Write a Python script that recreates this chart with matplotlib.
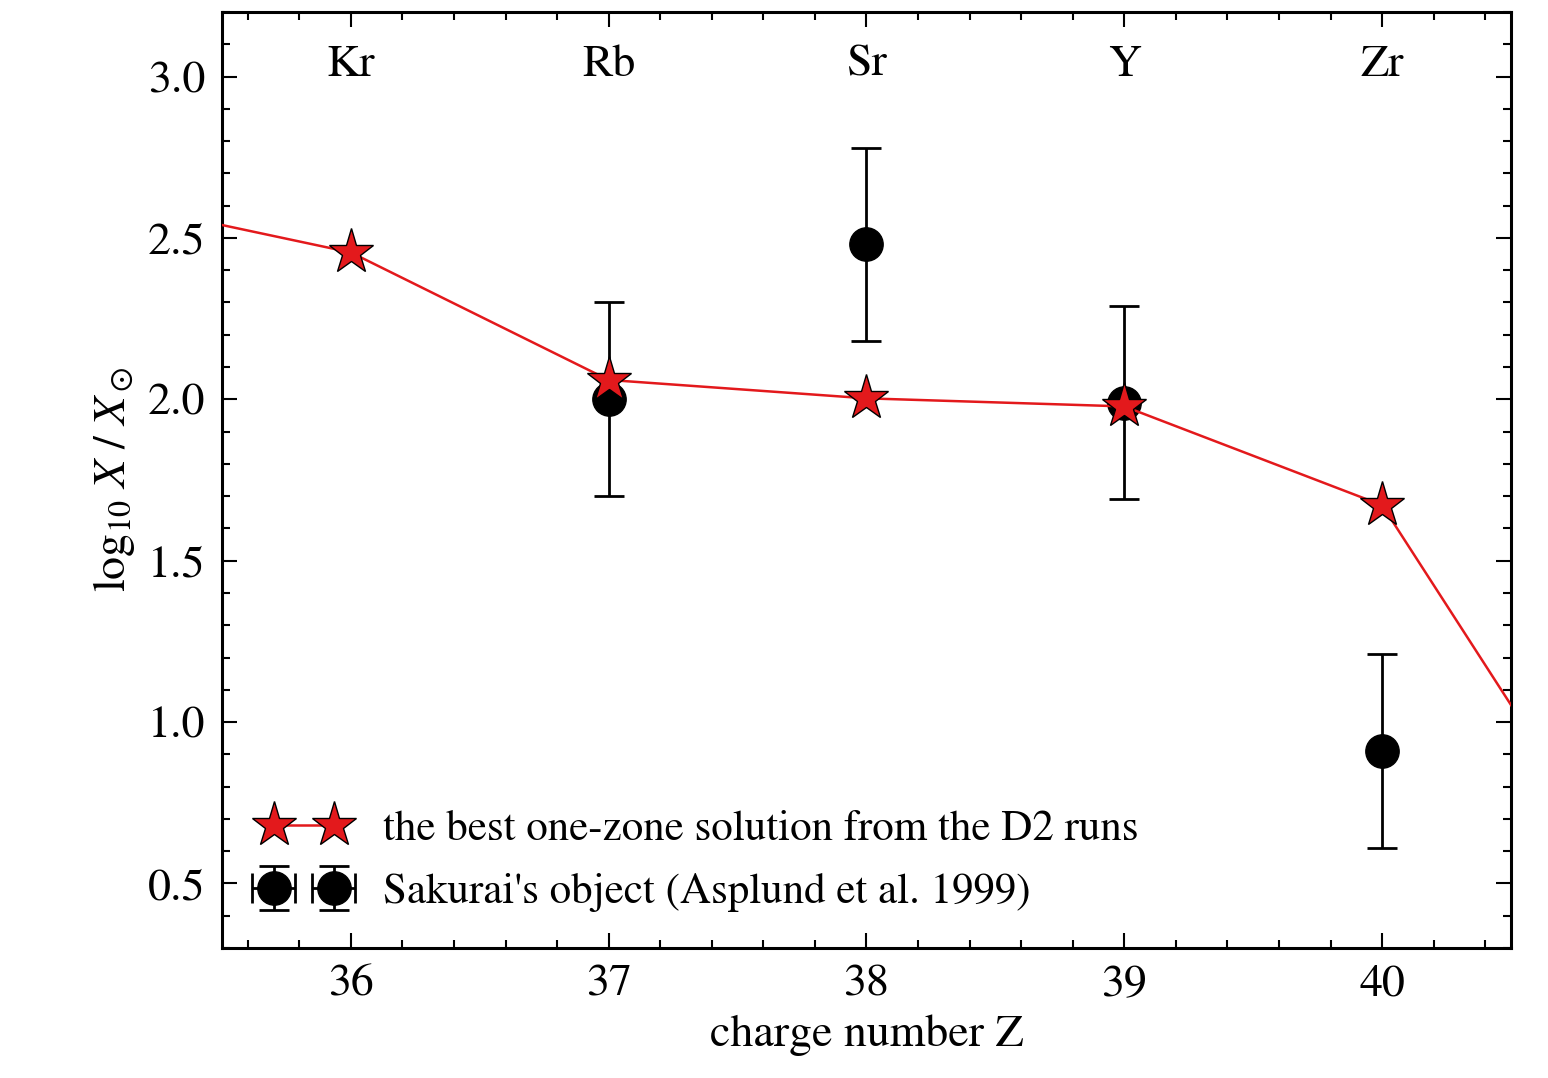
import numpy as np
import matplotlib
matplotlib.use("Agg")
import matplotlib.pyplot as plt
from matplotlib.ticker import MultipleLocator

plt.rcParams["font.family"] = ["STIXGeneral", "DejaVu Serif"]
plt.rcParams["mathtext.fontset"] = "stix"

# model curve (extends beyond plotted range on both sides)
model_z = [35, 36, 37, 38, 39, 40, 41]
model_val = [2.625, 2.455, 2.06, 2.003, 1.978, 1.672, 0.434]

# observations: Sakurai's object
obs_z = [37, 38, 39, 40]
obs_val = [2.00, 2.48, 1.99, 0.91]
obs_err = [0.30, 0.30, 0.30, 0.30]
obs_xerr = [0.02, 0.02, 0.02, 0.02]

elements = ["Kr", "Rb", "Sr", "Y", "Zr"]
element_z = [36, 37, 38, 39, 40]

FS = 33

fig = plt.figure(figsize=(15.48, 10.78), dpi=100)
ax = fig.add_axes([222 / 1548, 1 - 948 / 1078, 1289 / 1548, 936 / 1078])

ax.plot(model_z, model_val, "-", color="#e3191c", lw=1.8, marker="*",
        ms=34, mfc="#e3191c", mec="black", mew=1.0, zorder=3,
        label="the best one-zone solution from the D2 runs")
ax.errorbar(obs_z, obs_val, yerr=obs_err, xerr=obs_xerr, fmt="o", color="black",
            ms=24, elinewidth=2, capsize=11, capthick=2, zorder=2,
            label="Sakurai's object (Asplund et al. 1999)")

for z, el in zip(element_z, elements):
    ax.text(z, 3.035, el, ha="center", va="center", fontsize=FS)

ax.set_xlim(35.5, 40.5)
ax.set_ylim(0.3, 3.2)
ax.xaxis.set_major_locator(MultipleLocator(1))
ax.xaxis.set_minor_locator(MultipleLocator(0.2))
ax.yaxis.set_major_locator(MultipleLocator(0.5))
ax.yaxis.set_minor_locator(MultipleLocator(0.1))
ax.tick_params(which="both", direction="in", top=True, right=True,
               labelsize=FS, width=1.5)
ax.tick_params(which="major", length=11, pad=12)
ax.tick_params(which="minor", length=6)
for s in ax.spines.values():
    s.set_linewidth(2.2)

ax.set_xlabel("charge number Z", fontsize=FS, labelpad=6)
ax.set_ylabel(r"$\mathrm{log}_{10}\ X\ /\ X_\odot$", fontsize=FS, labelpad=8)

ax.legend(loc="lower left", frameon=False, numpoints=2, fontsize=31,
          handlelength=2.0, handletextpad=0.85, labelspacing=0.55,
          bbox_to_anchor=(0.0, -0.003))

fig.savefig("out.png", dpi=100)
